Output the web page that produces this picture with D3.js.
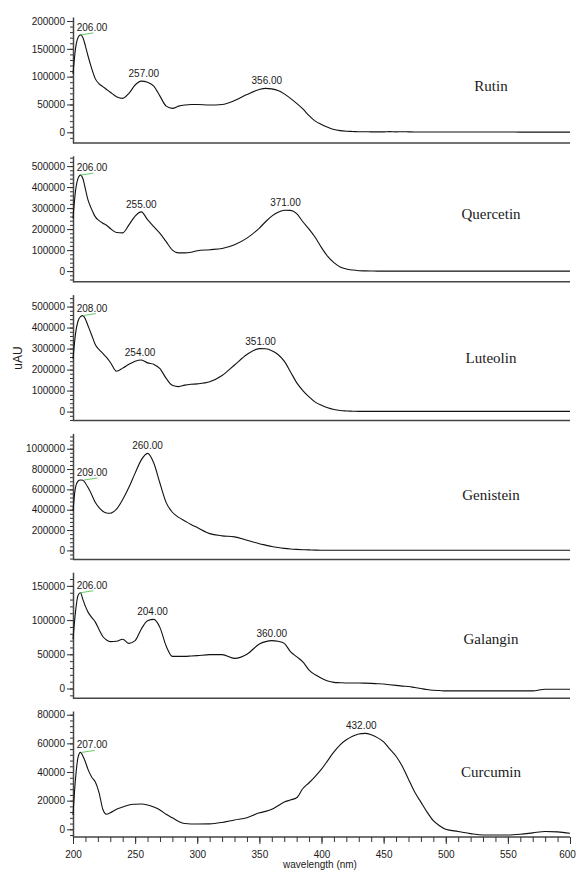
<!DOCTYPE html>
<html>
<head>
<meta charset="utf-8">
<script src="https://cdnjs.cloudflare.com/ajax/libs/d3/7.8.5/d3.min.js"></script>
<style>
  body { margin: 0; background: #fff; }
  text { font-family: "Liberation Sans", Arial, sans-serif; fill: #1a1a1a; }
</style>
</head>
<body>
<script>
// Wavelength grid (nm)
const wavelengths = [200,202,204,206,208,210,212,215,218,221,224,227,230,235,240,245,250,255,260,265,270,275,280,285,290,295,300,310,320,330,340,350,355,360,365,370,375,380,385,390,395,400,405,410,415,420,425,430,435,440,445,450,455,460,465,470,475,480,485,490,495,500,510,520,530,540,550,560,570,580,590,600];

// Absorbance (uAU) per compound
const rutin = [105000,150000,170000,175000,170000,155000,138000, 115000,96000,87000,82000,77000,72000,
  64000,61000,70000,85000,92000,90000,83000,65000,47000,43000,47000,49000,50000,50000,
  49000,50000,57000,68000,77000,
  79000,78000,75000,69000,61000,52000,42000,30000,20000,14000, 9000,5000,3000,2000,1500,1000,1000,800,800,800, 1200,800,1000,800,600,600,600,600,600,600,
  500,500,500,500,500,400,400,400,400,400];
const quercetin = [251000,380000,440000,457000,440000,390000,340000, 295000,258000,240000,228000,218000,203000,
  184000,182000,220000,262000,282000,245000,212000,180000,140000,100000,87000,87000,90000,97000,
  102000,108000,126000,157000,205000,
  235000,262000,280000,290000,289000,274000,235000,200000,160000,112000, 70000,40000,20000,10000,5000,2000,1000,500,0,0, 0,0,0,0,0,0,0,0,0,0,
  0,0,0,0,0,0,0,0,0,0];
const luteolin = [251000,370000,430000,452000,457000,440000,410000, 365000,318000,295000,277000,258000,235000,
  192000,207000,225000,240000,246000,232000,225000,205000,158000,125000,119000,126000,130000,132000,
  142000,172000,222000,272000,300000,
  299000,290000,272000,240000,190000,138000,100000,70000,45000,30000, 18000,10000,5000,3000,2000,1000,1000,1000,1000,1000, 1000,1000,1000,1000,1000,1000,1000,1000,1000,1000,
  1000,1000,1000,1000,1000,1000,1000,1000,1000,1000];
const genistein = [386000,620000,680000,692000,690000,660000,620000, 550000,470000,420000,385000,368000,366000,
  405000,500000,620000,760000,890000,954000,860000,660000,470000,375000,325000,290000,255000,225000,
  165000,143000,133000,100000,66000,
  52000,38000,28000,20000,14000,10000,7000,5000,3000,2000, 1000,1000,1000,1000,1000,1000,1000,1000,1000,1000, 1000,1000,1000,1000,1000,1000,1000,1000,1000,1000,
  1000,1000,1000,1000,1000,1000,1000,1000,1000,1000];
const galangin = [72000,112000,136000,140000,130000,120000,112000, 104000,97000,86000,76000,71000,68500,
  69000,72000,66000,70000,87000,99000,101000,89000,62000,47000,47000,47000,47500,48000,
  49500,49500,44000,50000,65000,
  68500,70000,69000,66000,54000,46500,39000,27000,20000,15000, 11000,9000,8500,8000,8000,8000,7800,7500,7000,6500, 5500,4500,3500,3000,1500,0,-1500,-2500,-3000,-3500,
  -3500,-3500,-3500,-3500,-3500,-3500,-3500,-1000,-1000,-1000];
const curcumin = [10000,35000,50000,53700,51000,47000,42000, 36500,33000,25500,14000,10500,11500,
  14000,15500,17000,17500,17700,17000,15500,13500,10500,8000,5500,4000,3700,3700,
  3800,4800,6500,8000,11500,
  12500,14000,16500,19000,20500,22000,28500,32500,37000,42000, 48000,54000,59000,62500,65000,66500,67000,66000,64000,61000, 56000,51000,44000,35000,26000,19000,12000,6000,2500,0,
  -1500,-3000,-4000,-4000,-4000,-3500,-2500,-1500,-1800,-2800];

const compounds = ["Rutin", "Quercetin", "Luteolin", "Genistein", "Galangin", "Curcumin"];
const series = [rutin, quercetin, luteolin, genistein, galangin, curcumin];

// Y tick labels and y extents per panel
const yTicks = [
  [0, 50000, 100000, 150000, 200000],
  [0, 100000, 200000, 300000, 400000, 500000],
  [0, 100000, 200000, 300000, 400000, 500000],
  [0, 200000, 400000, 600000, 800000, 1000000],
  [0, 50000, 100000, 150000],
  [0, 20000, 40000, 60000, 80000]
];
const yDomains = [[-19230, 207200], [-50950, 549000], [-42860, 557000], [-88500, 1150400], [-14180, 170000], [-5375, 82600]];

// Peak annotations
const peakNm = [[206, 257, 356], [206, 255, 371], [208, 254, 351], [209, 260], [206, 264, 360], [207, 432]];
const peakText = [["206.00", "257.00", "356.00"], ["206.00", "255.00", "371.00"], ["208.00", "254.00", "351.00"],
  ["209.00", "260.00"], ["206.00", "204.00", "360.00"], ["207.00", "432.00"]];

const xTicks = [200, 250, 300, 350, 400, 450, 500, 550, 600];

// Set Dimensions
const width = 576, height = 870;
const left = 73, right = 570;
const firstBottom = 143, panelStep = 138.8, panelHeight = 126;
const nameX = 491;
const nameOffset = [52, 63, 58, 59, 54, 60];

const svg = d3.select("body")
  .append("svg")
  .attr("width", width)
  .attr("height", height);

const x = d3.scaleLinear()
  .domain([200, 600])
  .range([left, right]);

function drawPanel(i) {
  const bottom = firstBottom + i * panelStep;
  const y = d3.scaleLinear()
    .domain(yDomains[i])
    .range([bottom, bottom - panelHeight]);
  const g = svg.append("g");

  // Bottom frame line
  g.append("line")
    .attr("x1", left).attr("x2", right)
    .attr("y1", bottom).attr("y2", bottom)
    .attr("stroke", "#444").attr("stroke-width", 1.5);

  // Minor y ticks
  const step = (yTicks[i][1] - yTicks[i][0]) / 5;
  const minor = d3.range(Math.ceil(yDomains[i][0] / step) * step, yDomains[i][1], step);
  g.append("g")
    .attr("transform", "translate(" + left + ",0)")
    .call(d3.axisLeft(y).tickValues(minor).tickSize(3).tickFormat(""))
    .call(a => a.select(".domain").remove())
    .selectAll("line").attr("stroke", "#333");

  // Y Axis
  const ax = g.append("g")
    .attr("transform", "translate(" + left + ",0)")
    .call(d3.axisLeft(y).tickValues(yTicks[i]).tickSize(6).tickSizeOuter(0).tickPadding(2).tickFormat(d3.format("d")));
  ax.select(".domain").attr("stroke", "#444").attr("stroke-width", 1.5);
  ax.selectAll("line").attr("stroke", "#333");
  ax.selectAll("text").style("font-size", "10px").attr("fill", "#1a1a1a");

  // Spectrum
  const line = d3.line()
    .x((d, k) => x(wavelengths[k]))
    .y(d => y(d))
    .curve(d3.curveMonotoneX);
  g.append("path")
    .datum(series[i])
    .attr("d", line)
    .attr("fill", "none")
    .attr("stroke", "#111")
    .attr("stroke-width", 1.1);

  // Peak labels
  peakNm[i].forEach((nm, k) => {
    let top = -Infinity;
    wavelengths.forEach((w, j) => { if (Math.abs(w - nm) <= 5) top = Math.max(top, series[i][j]); });
    const px = x(nm), py = y(top);
    const cx = Math.max(px, left + 19);
    if (k === 0) {
      g.append("line")
        .attr("x1", px).attr("y1", py)
        .attr("x2", px + 13).attr("y2", py - 2)
        .attr("stroke", "#6c6").attr("stroke-width", 1);
    }
    g.append("text")
      .attr("x", cx).attr("y", py - 4)
      .attr("text-anchor", "middle")
      .style("font-size", "10px")
      .text(peakText[i][k]);
  });

  // Compound name
  g.append("text")
    .attr("x", nameX).attr("y", bottom - nameOffset[i])
    .attr("text-anchor", "middle")
    .style("font-family", "'Liberation Serif', 'Times New Roman', serif")
    .style("font-size", "15px")
    .text(compounds[i]);

  return bottom;
}

let lastBottom = 0;
compounds.forEach((c, i) => { lastBottom = drawPanel(i); });

// X Axis (last panel only)
svg.append("g")
  .attr("transform", "translate(0," + lastBottom + ")")
  .call(d3.axisBottom(x).tickValues(d3.range(200, 601, 10)).tickSize(5).tickFormat(""))
  .call(a => a.select(".domain").remove())
  .selectAll("line").attr("stroke", "#333");
const xa = svg.append("g")
  .attr("transform", "translate(0," + lastBottom + ")")
  .call(d3.axisBottom(x).tickValues(xTicks).tickSize(7).tickSizeOuter(0).tickPadding(7));
xa.select(".domain").remove();
xa.selectAll("line").attr("stroke", "#333");
xa.selectAll("text")
  .style("font-size", "10px")
  .attr("fill", "#1a1a1a")
  .attr("dx", d => d === 600 ? -3 : 0);

svg.append("text")
  .attr("x", 320).attr("y", 868)
  .attr("text-anchor", "middle")
  .style("font-size", "10px")
  .text("wavelength (nm)");

svg.append("text")
  .attr("transform", "translate(22,358) rotate(-90)")
  .attr("text-anchor", "middle")
  .style("font-size", "12px")
  .text("uAU");
</script>
</body>
</html>
